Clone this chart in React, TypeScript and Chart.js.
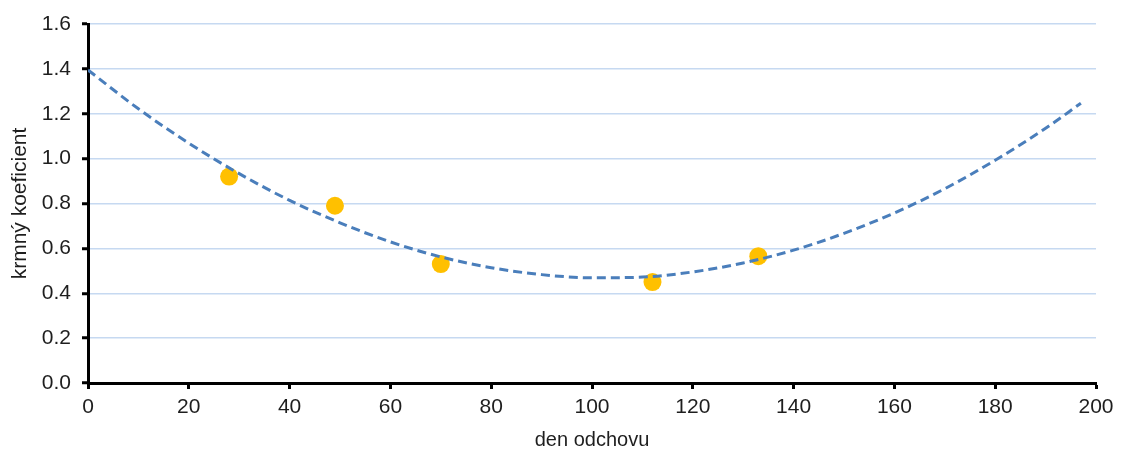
import React, { useEffect, useRef } from "react";
import { Chart, registerables } from "chart.js";

Chart.register(...registerables);

// Measured points
const pointDays = [28, 49, 70, 112, 133];
const pointValues = [0.92, 0.79, 0.53, 0.45, 0.565];

// Dashed trend line
const trendDays = [0, 10, 20, 30, 40, 50, 60, 70, 80, 90, 100, 110, 120, 130, 140, 150, 160, 170, 180, 190, 197];
const trendValues = [1.395, 1.222, 1.069, 0.933, 0.814, 0.714, 0.629, 0.562, 0.514, 0.483, 0.469, 0.472, 0.495, 0.535, 0.592, 0.667, 0.758, 0.866, 0.993, 1.135, 1.247];

const xTitle = "den odchovu";
const yTitle = "krmný koeficient";

const FONT = "'Liberation Sans', Arial, sans-serif";
const TEXT = "#1e1e1e";

export default function App() {
  const ref = useRef<HTMLCanvasElement | null>(null);

  useEffect(() => {
    if (!ref.current) return;
    const chart = new Chart(ref.current, {
      type: "scatter",
      data: {
        datasets: [
          {
            label: "trend",
            data: trendDays.map((d, i) => ({ x: d, y: trendValues[i] })),
            showLine: true,
            borderColor: "#4a7ebb",
            borderWidth: 3,
            borderDash: [9, 5],
            pointRadius: 0,
            cubicInterpolationMode: "monotone",
            order: 0,
          },
          {
            label: "data",
            data: pointDays.map((d, i) => ({ x: d, y: pointValues[i] })),
            backgroundColor: "#ffc000",
            borderWidth: 0,
            pointRadius: 9,
            order: 1,
          },
        ],
      },
      options: {
        responsive: false,
        animation: false,
        layout: { padding: { top: 24, right: 26, left: 0, bottom: 0 } },
        plugins: { legend: { display: false }, tooltip: { enabled: false } },
        scales: {
          x: {
            type: "linear",
            min: 0,
            max: 200,
            afterFit: (s: any) => {
              s.height = 69;
            },
            ticks: {
              stepSize: 20,
              color: TEXT,
              font: { family: FONT, size: 21 },
              padding: 6,
              maxRotation: 0,
            },
            grid: {
              drawOnChartArea: false,
              drawTicks: true,
              tickLength: 6,
              tickWidth: 3,
              tickColor: "#000",
            },
            border: { display: true, color: "#000", width: 3 },
            title: {
              display: true,
              text: xTitle,
              color: TEXT,
              font: { family: FONT, size: 20, lineHeight: 1.2 },
              padding: { top: 0, bottom: 0 },
            },
          },
          y: {
            type: "linear",
            min: 0,
            max: 1.6,
            afterFit: (s: any) => {
              s.width = 88;
            },
            ticks: {
              stepSize: 0.2,
              color: TEXT,
              font: { family: FONT, size: 21 },
              padding: 11,
              callback: (v: any) => Number(v).toFixed(1),
            },
            grid: {
              color: "#c6d9f1",
              lineWidth: 1.5,
              drawTicks: true,
              tickLength: 6,
              tickWidth: 3,
              tickColor: "#000",
            },
            border: { display: true, color: "#000", width: 3 },
            title: {
              display: true,
              text: yTitle,
              color: TEXT,
              font: { family: FONT, size: 21, lineHeight: 1.2 },
              padding: { top: 8, bottom: 0 },
            },
          },
        },
      },
    } as any);
    return () => chart.destroy();
  }, []);

  return (
    <div style={{ position: "absolute", left: 0, top: 0, width: 1122, height: 452, background: "#fff" }}>
      <canvas ref={ref} width={1122} height={452} />
    </div>
  );
}
